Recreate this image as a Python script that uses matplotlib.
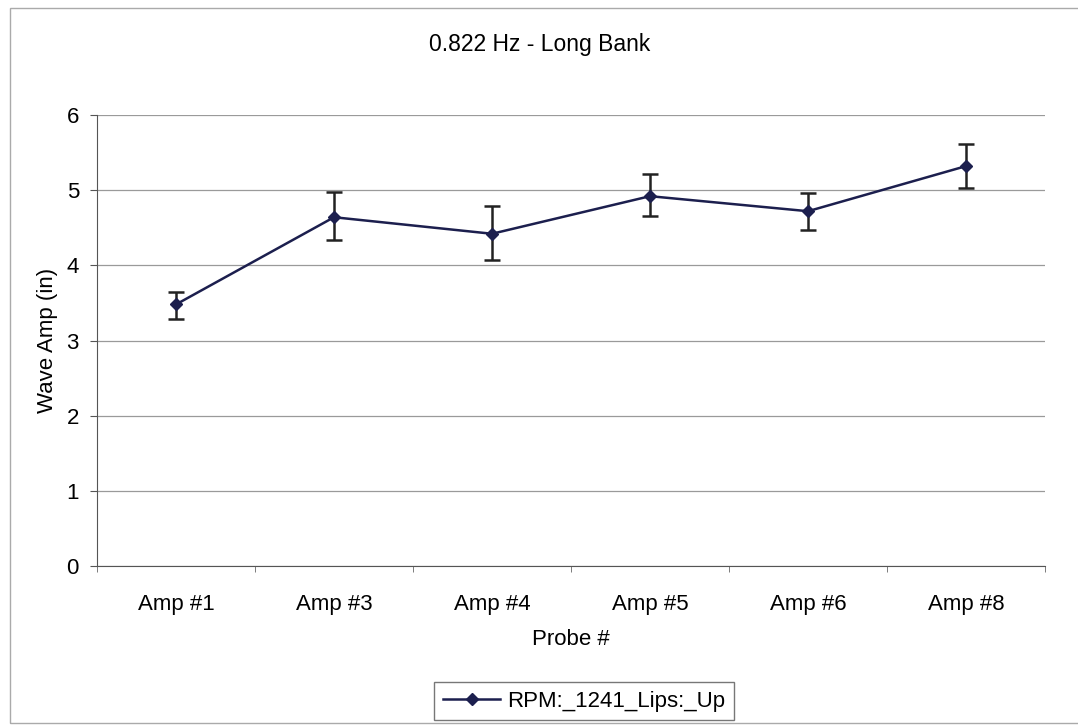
import numpy as np
import matplotlib.pyplot as plt
from matplotlib.lines import Line2D
from matplotlib.patches import Rectangle

plt.rcParams["font.family"] = ["Liberation Sans", "DejaVu Sans"]

probes = ["Amp #1", "Amp #3", "Amp #4", "Amp #5", "Amp #6", "Amp #8"]
wave_amp = [3.48, 4.64, 4.42, 4.92, 4.72, 5.32]
err_low = [0.19, 0.30, 0.35, 0.26, 0.25, 0.29]
err_high = [0.16, 0.33, 0.37, 0.30, 0.24, 0.29]

line_color = "#1c1f4e"

fig = plt.figure(figsize=(10.78, 7.27), dpi=100)
ax = fig.add_axes([97 / 1078, 1 - 566 / 727, 948 / 1078, 451 / 727])

x = np.arange(len(probes))
ax.errorbar(x, wave_amp, yerr=[err_low, err_high], color=line_color, lw=1.8,
            marker="D", ms=6, ecolor="#222222", elinewidth=1.8, capsize=6,
            capthick=1.8)

ax.set_xlim(-0.5, len(probes) - 0.5)
ax.set_ylim(0, 6)
ax.set_yticks(range(7))
ax.set_xticks(x)
ax.set_xticklabels(probes)
ax.set_xticks(np.arange(-0.5, len(probes)), minor=True)
ax.tick_params(axis="x", which="major", length=0, pad=20, labelsize=16)
ax.tick_params(axis="x", which="minor", length=4, color="#666666")
ax.tick_params(axis="y", length=5, direction="out", pad=8, labelsize=16, color="#555555")
ax.grid(axis="y", color="#9a9a9a", lw=0.9)
ax.set_axisbelow(True)
for side in ["top", "right"]:
    ax.spines[side].set_visible(False)
ax.spines["left"].set_color("#555555")
ax.spines["bottom"].set_color("#555555")

ax.set_xlabel("Probe #", fontsize=16, labelpad=10)
ax.set_ylabel("Wave Amp (in)", fontsize=16, labelpad=6)
fig.text(540 / 1078, 1 - 45 / 727, "0.822 Hz - Long Bank", ha="center", va="center", fontsize=16.5)

handle = Line2D([], [], color=line_color, lw=1.8, marker="D", ms=6)
leg = ax.legend([handle], ["RPM:_1241_Lips:_Up"], loc="center",
                bbox_to_anchor=(584 / 1078, 1 - 701 / 727),
                bbox_transform=fig.transFigure, fontsize=16, frameon=True,
                fancybox=False, handlelength=2.6, handletextpad=0.3, borderpad=0.4)
leg.get_frame().set_edgecolor("#555555")
leg.get_frame().set_linewidth(1)

fig.patches.append(Rectangle((10 / 1078, 0.005), 1.0, 1 - 8 / 727 - 0.005,
                             transform=fig.transFigure, fill=False,
                             edgecolor="#aaaaaa", lw=1))

fig.savefig("out.png", dpi=100)
